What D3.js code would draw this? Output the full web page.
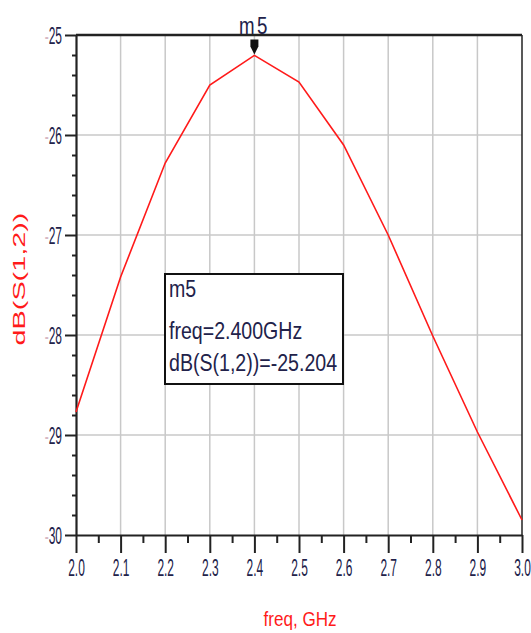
<!DOCTYPE html>
<html>
<head>
<meta charset="utf-8">
<script src="https://cdn.jsdelivr.net/npm/d3@7"></script>
<style>
  body { margin: 0; background: #fff; }
  svg { display: block; font-family: "Liberation Sans", Arial, sans-serif; }
</style>
</head>
<body>
<div id="chart"></div>
<script>
// data
var freqs = [2.0, 2.1, 2.2, 2.3, 2.4, 2.5, 2.6, 2.7, 2.8, 2.9, 3.0]
var s12dB = [-28.77, -27.42, -26.28, -25.50, -25.204, -25.47, -26.10, -27.00, -28.01, -28.97, -29.85]
var xTicks = [2.0, 2.1, 2.2, 2.3, 2.4, 2.5, 2.6, 2.7, 2.8, 2.9, 3.0]
var yTicks = [-30, -29, -28, -27, -26, -25]
var markerName = "m5"
var markerFreq = 2.4
var markerValue = -25.204

var W = 531, H = 633
var margin = {top: 35, right: 9, bottom: 98, left: 76}
var width = W - margin.left - margin.right
var height = H - margin.top - margin.bottom

var svg = d3.select("#chart").append("svg")
    .attr("width", W)
    .attr("height", H)
var plot = svg.append("g")
    .attr("transform", `translate(${margin.left},${margin.top})`)

var xScale = d3.scaleLinear().domain([2.0, 3.0]).range([0, width])
var yScale = d3.scaleLinear().domain([-30, -25]).range([height, 0])

var ink = "#22224a"

// grid
plot.append("g").selectAll("line")
    .data(xTicks.slice(1, -1))
    .join("line")
    .attr("x1", d => xScale(d)).attr("x2", d => xScale(d))
    .attr("y1", 0).attr("y2", height)
    .attr("stroke", "#c8c8c8").attr("stroke-width", 1.5)
plot.append("g").selectAll("line")
    .data(yTicks.slice(1, -1))
    .join("line")
    .attr("x1", 0).attr("x2", width)
    .attr("y1", d => yScale(d)).attr("y2", d => yScale(d))
    .attr("stroke", "#c8c8c8").attr("stroke-width", 1.5)

// frame top / right
plot.append("line").attr("x1", 0).attr("x2", width).attr("y1", 0).attr("y2", 0)
    .attr("stroke", "#222").attr("stroke-width", 2.5)
plot.append("line").attr("x1", width).attr("x2", width).attr("y1", 0).attr("y2", height)
    .attr("stroke", "#222").attr("stroke-width", 1.5)

// minor ticks
var yMinor = d3.range(-30, -25, 0.2).filter(v => Math.abs(v - Math.round(v)) > 1e-6)
var xMinor = d3.range(2.05, 3.0, 0.1)
plot.append("g")
    .call(d3.axisLeft(yScale).tickValues(yMinor).tickSize(4).tickFormat(""))
    .call(g => g.select(".domain").remove())
plot.append("g")
    .attr("transform", `translate(0,${height})`)
    .call(d3.axisBottom(xScale).tickValues(xMinor).tickSize(8).tickFormat(""))
    .call(g => g.select(".domain").remove())

// y axis
var yAxis = plot.append("g")
    .call(d3.axisLeft(yScale).tickValues(yTicks).tickSize(11).tickSizeOuter(0)
        .tickFormat(d => String(Math.abs(d))))
yAxis.selectAll("text")
    .attr("x", 0).attr("dy", null)
    .attr("transform", "translate(-14,8.5) scale(0.57,1.18)")
    .attr("fill", ink)
    .style("font-size", "21px")
    .each(function(){
        var t = d3.select(this), s = t.text()
        t.text("")
        t.append("tspan").attr("fill", "#d6b8c4").text("-")
        t.append("tspan").text(s)
    })

// x axis
var xAxis = plot.append("g")
    .attr("transform", `translate(0,${height})`)
    .call(d3.axisBottom(xScale).tickValues(xTicks).tickSize(18).tickSizeOuter(0)
        .tickFormat(d3.format(".1f")))
xAxis.selectAll("text")
    .attr("y", 0).attr("dy", null)
    .attr("transform", "translate(0,41) scale(0.57,1.18)")
    .attr("fill", ink)
    .style("font-size", "21px")

plot.selectAll(".domain").attr("stroke", "#222").attr("stroke-width", 2.2)
plot.selectAll(".tick line").attr("stroke", "#222").attr("stroke-width", 2)

// curve
var line = d3.line()
    .x((d, i) => xScale(freqs[i]))
    .y(d => yScale(d))
plot.append("path")
    .datum(s12dB)
    .attr("d", line)
    .attr("fill", "none")
    .attr("stroke", "#ff1a1a")
    .attr("stroke-width", 1.6)

// marker
var mx = xScale(markerFreq), my = yScale(markerValue)
plot.append("path")
    .attr("transform", `translate(${mx},${my})`)
    .attr("d", "M-4,-16 h8 v7 l-4,8 l-4,-8 z")
    .attr("fill", "#111")
plot.append("text")
    .attr("transform", `translate(${mx},${-1}) scale(0.85,1.1)`)
    .attr("text-anchor", "middle")
    .attr("fill", ink)
    .style("font-size", "22px")
    .style("letter-spacing", "3px")
    .text(markerName)

// marker readout box
var box = plot.append("g").attr("transform", `translate(${165 - margin.left},${274 - margin.top})`)
box.append("rect")
    .attr("width", 178).attr("height", 110)
    .attr("fill", "#fff").attr("stroke", "#111").attr("stroke-width", 2)
var lines = [markerName, "freq=2.400GHz", "dB(S(1,2))=" + markerValue.toFixed(3)]
box.selectAll("text.read")
    .data(lines)
    .join("text")
    .attr("class", "read")
    .attr("transform", (d, i) => `translate(4,${[23, 65, 97][i]}) scale(0.89,1.1)`)
    .attr("fill", ink)
    .style("font-size", "22px")
    .text(d => d)

// axis titles
svg.append("text")
    .attr("transform", "translate(300,626) scale(0.9,1.05)")
    .attr("text-anchor", "middle")
    .attr("fill", "#ff1a1a")
    .style("font-size", "19px")
    .text("freq, GHz")
svg.append("text")
    .attr("transform", "translate(25,279) rotate(-90) scale(1.2,0.7)")
    .attr("text-anchor", "middle")
    .attr("fill", "#ff1a1a")
    .style("font-size", "24px")
    .text("dB(S(1,2))")
</script>
</body>
</html>
